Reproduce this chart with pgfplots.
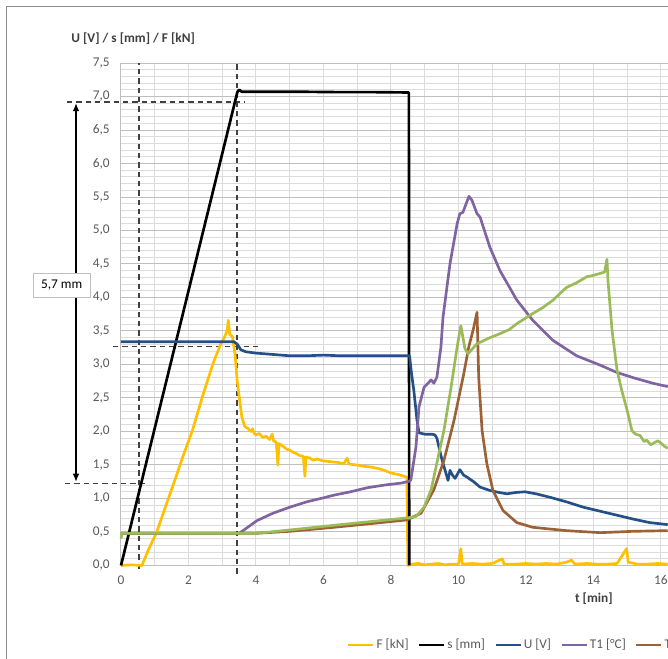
\documentclass[border=0pt]{standalone}
\usepackage{fontspec}
\setmainfont{Carlito}
\usepackage{pgfplots}
\pgfplotsset{compat=1.18}
\usetikzlibrary{arrows.meta}
\definecolor{cF}{HTML}{FFC000}
\definecolor{cU}{HTML}{255087}
\definecolor{cT1}{HTML}{8064A2}
\definecolor{cT2}{HTML}{9C6236}
\definecolor{cT3}{HTML}{9BBB59}
\definecolor{tickgray}{HTML}{595959}
\definecolor{titlegray}{HTML}{404040}
\definecolor{gridmaj}{HTML}{BFBFBF}
\definecolor{gridmin}{HTML}{DCDCDC}
\definecolor{framegray}{HTML}{8C8C8C}
\definecolor{dashgray}{HTML}{404040}
\begin{document}
\begin{tikzpicture}[font=\fontsize{10}{12}\selectfont]
\begin{axis}[
  scale only axis, width=410.3pt, height=376.875pt,
  xmin=0, xmax=16.21, ymin=0, ymax=7.5,
  clip=false,
  axis line style={draw=none},
  xtick={0,2,...,16}, minor x tick num=1,
  ytick={0,0.5,...,7.5}, minor y tick num=4,
  grid=both,
  major x grid style={gridmin, line width=0.75pt},
  minor x grid style={gridmin, line width=0.75pt},
  major y grid style={gridmaj, line width=0.75pt},
  minor y grid style={gridmin, line width=0.75pt},
  major tick length=0pt, minor tick length=0pt,
  /pgf/number format/assume math mode=true,
  ticklabel style={text=tickgray, font=\fontsize{10}{12}\selectfont},
  xticklabel style={yshift=-4pt},
  yticklabel style={/pgf/number format/fixed, /pgf/number format/fixed zerofill,
    /pgf/number format/precision=1, /pgf/number format/use comma, xshift=-5pt},
  every axis plot/.append style={line width=2pt, line join=round, mark=none},
  legend style={draw=none, fill=none, inner sep=0pt, at={(0.413,-0.158)}, anchor=west,
    font=\fontsize{10}{12}\selectfont, text=tickgray,
    nodes={inner sep=1.5pt},
    /tikz/every even column/.append style={column sep=5.5pt}},
  legend columns=-1,
  legend image code/.code={\draw[#1, line width=1.8pt] (0pt,0pt) -- (18.75pt,0pt);},
]
% annotations (behind the data)
\draw[gridmaj, line width=0.75pt] (axis cs:0,0) -- (axis cs:0,7.5);
\draw[dashgray, line width=1.1pt, dash pattern=on 4pt off 3pt] (axis cs:0.533,-0.05) -- (axis cs:0.533,7.5);
\draw[dashgray, line width=1.1pt, dash pattern=on 4pt off 3pt] (axis cs:3.44,-0.12) -- (axis cs:3.44,7.5);
\draw[dashgray, line width=1.1pt, dash pattern=on 4pt off 3pt] (axis cs:-1.6,6.92) -- (axis cs:3.67,6.92);
\draw[dashgray, line width=1.1pt, dash pattern=on 4pt off 3pt] (axis cs:-1.66,1.22) -- (axis cs:0.71,1.22);
\draw[dashgray, line width=1.1pt, dash pattern=on 4pt off 3pt] (axis cs:-0.24,3.27) -- (axis cs:4.06,3.27);
\draw[black, line width=0.9pt, {Latex[length=6pt,width=5pt]}-{Latex[length=6pt,width=5pt]}] (axis cs:-1.333,6.90) -- (axis cs:-1.333,1.25);
\node[draw=gridmaj, fill=white, minimum width=42.75pt, minimum height=18pt, inner sep=0pt, text=black] at (axis cs:-1.76,4.19) {5,7 mm};
\node[font=\bfseries\fontsize{10}{12}\selectfont, text=titlegray] at (axis cs:0.36,7.87) {U [V] / s [mm] / F [kN]};
\node[font=\bfseries\fontsize{10}{12}\selectfont, text=titlegray] at (axis cs:14.01,-0.5) {t [min]};

% F [kN]
\addplot[cF] coordinates {
(0,0) (0.3,0.01) (0.62,0) (0.8,0.22) (1.06,0.5) (1.3,0.85) (1.6,1.28) (1.85,1.65)
(2.12,2.02) (2.4,2.5) (2.73,3.02) (2.95,3.3) (3.08,3.42) (3.15,3.52) (3.18,3.66)
(3.22,3.45) (3.3,3.42) (3.38,3.15) (3.44,2.77) (3.52,2.45) (3.58,2.22) (3.67,2.07)
(3.75,2.05) (3.85,2.0) (3.9,2.04) (3.95,1.97) (4.0,1.95) (4.1,1.97) (4.2,1.91)
(4.3,1.93) (4.4,1.88) (4.48,1.96) (4.52,1.86) (4.6,1.84) (4.65,1.5) (4.68,1.82)
(4.8,1.78) (4.9,1.74) (5.0,1.72) (5.1,1.69) (5.2,1.67) (5.3,1.64) (5.4,1.63)
(5.45,1.33) (5.48,1.62) (5.6,1.60) (5.7,1.57) (5.8,1.59) (6.0,1.56) (6.2,1.55)
(6.4,1.54) (6.6,1.52) (6.7,1.6) (6.75,1.52) (6.8,1.51) (7.0,1.50) (7.2,1.48)
(7.4,1.47) (7.6,1.45) (7.8,1.42) (8.0,1.38) (8.2,1.36) (8.4,1.33) (8.47,1.32)
(8.5,0.0) (8.6,0.02) (8.8,0.03) (9.0,0.01) (9.2,0.02) (9.4,0.03) (9.6,0.01)
(9.8,0.02) (10.0,0.02) (10.07,0.25) (10.11,0.02) (10.4,0.03) (10.7,0.02)
(11.0,0.03) (11.3,0.1) (11.35,0.02) (11.7,0.02) (12.0,0.03) (12.3,0.02) (12.6,0.03)
(12.9,0.02) (13.2,0.05) (13.35,0.08) (13.45,0.02) (13.8,0.03) (14.1,0.02)
(14.4,0.02) (14.7,0.03) (14.98,0.25) (15.03,0.05) (15.3,0.02) (15.6,0.02)
(15.9,0.03) (16.2,0.02)
};
\addlegendentry{F [kN]}
% s [mm]
\addplot[black] coordinates {
(0,0) (3.45,7.07) (3.5,7.1) (3.58,7.07) (4.5,7.07) (5.5,7.07) (6.5,7.065)
(7.5,7.065) (8.53,7.06) (8.54,0)
};
\addlegendentry{s [mm]}
% U [V]
\addplot[cU] coordinates {
(0,3.34) (1,3.34) (2,3.34) (3,3.34) (3.35,3.34) (3.45,3.30) (3.55,3.22) (3.7,3.19)
(4,3.17) (4.5,3.15) (5,3.13) (5.5,3.13) (6,3.14) (6.5,3.13) (7,3.13) (7.5,3.13)
(8,3.13) (8.55,3.13) (8.6,2.9) (8.68,2.6) (8.77,2.17) (8.83,1.98) (9.0,1.96)
(9.2,1.96) (9.3,1.95) (9.36,1.9) (9.5,1.6) (9.69,1.27) (9.75,1.42) (9.82,1.35)
(9.9,1.30) (10.04,1.43) (10.15,1.35) (10.25,1.32) (10.45,1.25) (10.64,1.17)
(10.93,1.12) (11.2,1.09) (11.44,1.07) (11.7,1.09) (11.97,1.10) (12.3,1.07)
(12.7,1.02) (13.2,0.95) (13.7,0.87) (14.2,0.81) (14.7,0.75) (15.2,0.69)
(15.67,0.64) (16.2,0.61)
};
\addlegendentry{U [V]}
% T1
\addplot[cT1] coordinates {
(0,0.48) (3.5,0.48) (3.53,0.49) (4.03,0.67) (4.5,0.78) (5.0,0.87) (5.5,0.95)
(6.0,1.01) (6.31,1.05) (6.8,1.10) (7.29,1.16) (7.8,1.20) (8.3,1.23) (8.56,1.26)
(8.59,1.28) (8.74,1.77) (8.83,2.37) (8.98,2.66) (9.19,2.77) (9.27,2.72) (9.36,2.81)
(9.48,3.26) (9.54,3.7) (9.75,4.51) (9.96,5.1) (10.04,5.25) (10.13,5.27) (10.31,5.51)
(10.4,5.45) (10.55,5.25) (10.64,5.2) (10.93,4.75) (11.23,4.4) (11.73,3.96)
(12.2,3.66) (12.8,3.36) (13.5,3.13) (14.2,2.99) (14.7,2.88) (15.2,2.8) (15.76,2.72)
(16.2,2.67)
};
\addlegendentry{T1 [°C]}
% T2
\addplot[cT2] coordinates {
(0,0.48) (4.0,0.48) (5,0.51) (6.31,0.57) (7.5,0.63) (8.47,0.68) (8.89,0.78)
(9.27,1.13) (9.57,1.57) (9.87,2.17) (10.16,2.87) (10.3,3.25) (10.45,3.55)
(10.55,3.78) (10.6,2.8) (10.7,2.01) (10.84,1.52) (11.02,1.12) (11.32,0.82)
(11.73,0.64) (12.2,0.57) (13.2,0.52) (14.2,0.49) (15.17,0.51) (16.2,0.52)
};
\addlegendentry{T2 [°C]}
% T3
\addplot[cT3, forget plot] coordinates {
(0,0.4) (0.03,0.48) (4.0,0.48) (5,0.53) (6.31,0.60) (7.29,0.65) (8.47,0.71)
(8.74,0.73) (8.98,0.87) (9.19,1.13) (9.36,1.53) (9.57,2.02) (9.78,2.66) (9.96,3.26)
(10.07,3.58) (10.19,3.24) (10.28,3.16) (10.55,3.31) (10.93,3.4) (11.23,3.46)
(11.5,3.52) (11.73,3.61) (12.2,3.76) (12.5,3.85) (12.8,3.96) (13.2,4.15)
(13.5,4.22) (13.8,4.31) (14.0,4.33) (14.2,4.36) (14.33,4.38) (14.4,4.57)
(14.43,4.25) (14.55,3.51) (14.7,2.91) (14.84,2.61) (15.0,2.31) (15.14,2.01)
(15.25,1.96) (15.38,1.94) (15.5,1.85) (15.58,1.87) (15.7,1.80) (15.76,1.82)
(15.9,1.86) (15.97,1.84) (16.1,1.78) (16.2,1.75)
};
\end{axis}
\draw[framegray, line width=0.75pt] (-85.5pt,-80pt) -- (-85.5pt,419.6pt) -- (420pt,419.6pt);
\pgfresetboundingbox
\path[use as bounding box] (-90.75pt,-70.125pt) rectangle (410.25pt,424.125pt);
\end{tikzpicture}
\end{document}
